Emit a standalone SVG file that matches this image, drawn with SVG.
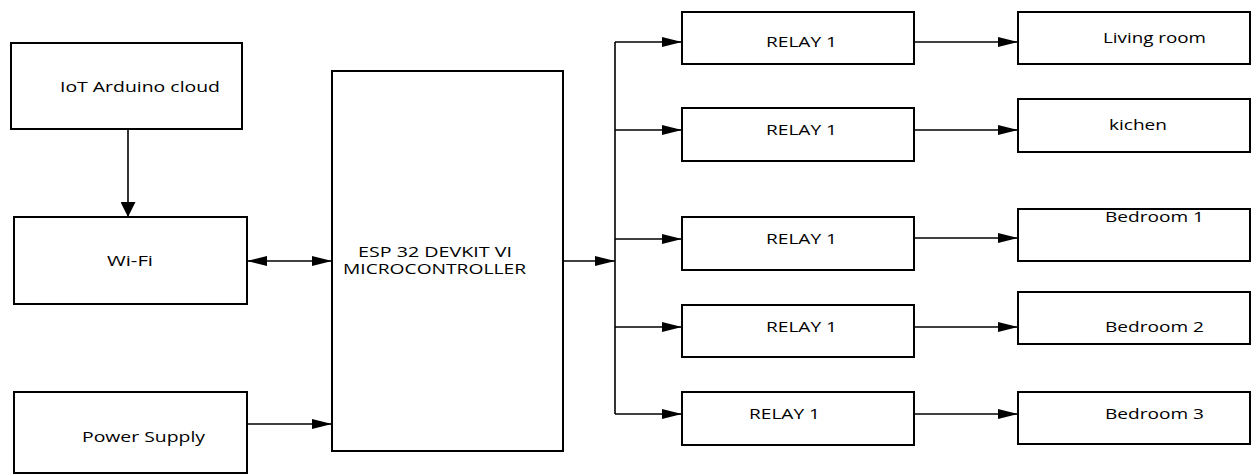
<svg xmlns="http://www.w3.org/2000/svg" width="1252" height="475" viewBox="0 0 1252 475">
<style>
.box{fill:#fff;stroke:#000;stroke-width:2}
.ln{fill:none;stroke:#000;stroke-width:1.6}
.t{font-family:"Open Sans","Liberation Sans",sans-serif;font-size:14.5px;fill:#000}
</style>
<defs>
<marker id="ah" markerUnits="userSpaceOnUse" markerWidth="20" markerHeight="10" refX="20" refY="5" orient="auto-start-reverse" viewBox="0 0 20 10">
<path d="M0,0 L20,5 L0,10 z" fill="#000"/>
</marker>
<marker id="ahv" markerUnits="userSpaceOnUse" markerWidth="15" markerHeight="15" refX="15" refY="7.5" orient="auto" viewBox="0 0 15 15">
<path d="M0,0 L15,7.5 L0,15 z" fill="#000"/>
</marker>
</defs>
<rect width="1252" height="475" fill="#fff"/>
<g id="connectors">
<line class="ln" x1="128" y1="129" x2="128" y2="217" marker-end="url(#ahv)"/>
<line class="ln" x1="247" y1="261" x2="332" y2="261" marker-start="url(#ah)" marker-end="url(#ah)"/>
<line class="ln" x1="247" y1="424" x2="332" y2="424" marker-end="url(#ah)"/>
<line class="ln" x1="563" y1="261" x2="615" y2="261" marker-end="url(#ah)"/>
<line class="ln" x1="615" y1="42" x2="615" y2="414"/>
<line class="ln" x1="615" y1="42" x2="682" y2="42" marker-end="url(#ah)"/>
<line class="ln" x1="615" y1="130" x2="682" y2="130" marker-end="url(#ah)"/>
<line class="ln" x1="615" y1="239" x2="682" y2="239" marker-end="url(#ah)"/>
<line class="ln" x1="615" y1="327" x2="682" y2="327" marker-end="url(#ah)"/>
<line class="ln" x1="615" y1="414" x2="682" y2="414" marker-end="url(#ah)"/>
<line class="ln" x1="914" y1="42" x2="1018" y2="42" marker-end="url(#ah)"/>
<line class="ln" x1="914" y1="130" x2="1018" y2="130" marker-end="url(#ah)"/>
<line class="ln" x1="914" y1="238" x2="1018" y2="238" marker-end="url(#ah)"/>
<line class="ln" x1="914" y1="327" x2="1018" y2="327" marker-end="url(#ah)"/>
<line class="ln" x1="914" y1="414" x2="1018" y2="414" marker-end="url(#ah)"/>
</g>
<g id="iot"><rect class="box" x="11" y="43" width="231" height="86"/><text class="t" x="60" y="92" textLength="160" lengthAdjust="spacingAndGlyphs">IoT Arduino cloud</text></g>
<g id="wifi"><rect class="box" x="14" y="217" width="233" height="87"/><text class="t" x="107" y="266" textLength="46" lengthAdjust="spacingAndGlyphs">Wi-Fi</text></g>
<g id="power"><rect class="box" x="14" y="392" width="233" height="81"/><text class="t" x="82" y="442" textLength="123" lengthAdjust="spacingAndGlyphs">Power Supply</text></g>
<g id="mcu"><rect class="box" x="332" y="71" width="231" height="380"/><text class="t" x="358" y="257" textLength="154" lengthAdjust="spacingAndGlyphs">ESP 32 DEVKIT VI</text><text class="t" x="343" y="274" textLength="183" lengthAdjust="spacingAndGlyphs">MICROCONTROLLER</text></g>
<g id="relay1"><rect class="box" x="682" y="12" width="232" height="52"/><text class="t" x="766" y="47" textLength="71" lengthAdjust="spacingAndGlyphs">RELAY 1</text></g>
<g id="relay2"><rect class="box" x="682" y="108" width="232" height="53"/><text class="t" x="766" y="135" textLength="71" lengthAdjust="spacingAndGlyphs">RELAY 1</text></g>
<g id="relay3"><rect class="box" x="682" y="217" width="232" height="53"/><text class="t" x="766" y="244" textLength="71" lengthAdjust="spacingAndGlyphs">RELAY 1</text></g>
<g id="relay4"><rect class="box" x="682" y="305" width="232" height="52"/><text class="t" x="766" y="332" textLength="71" lengthAdjust="spacingAndGlyphs">RELAY 1</text></g>
<g id="relay5"><rect class="box" x="682" y="392" width="232" height="53"/><text class="t" x="749" y="419" textLength="71" lengthAdjust="spacingAndGlyphs">RELAY 1</text></g>
<g id="living"><rect class="box" x="1018" y="12" width="232" height="52"/><text class="t" x="1103" y="43" textLength="103" lengthAdjust="spacingAndGlyphs">Living room</text></g>
<g id="kitchen"><rect class="box" x="1018" y="99" width="232" height="53"/><text class="t" x="1109" y="130" textLength="58" lengthAdjust="spacingAndGlyphs">kichen</text></g>
<g id="bed1"><rect class="box" x="1018" y="209" width="232" height="52"/><text class="t" x="1105" y="222" textLength="99" lengthAdjust="spacingAndGlyphs">Bedroom 1</text></g>
<g id="bed2"><rect class="box" x="1018" y="292" width="232" height="52"/><text class="t" x="1105" y="332" textLength="99" lengthAdjust="spacingAndGlyphs">Bedroom 2</text></g>
<g id="bed3"><rect class="box" x="1018" y="392" width="232" height="52"/><text class="t" x="1105" y="419" textLength="99" lengthAdjust="spacingAndGlyphs">Bedroom 3</text></g>
</svg>
